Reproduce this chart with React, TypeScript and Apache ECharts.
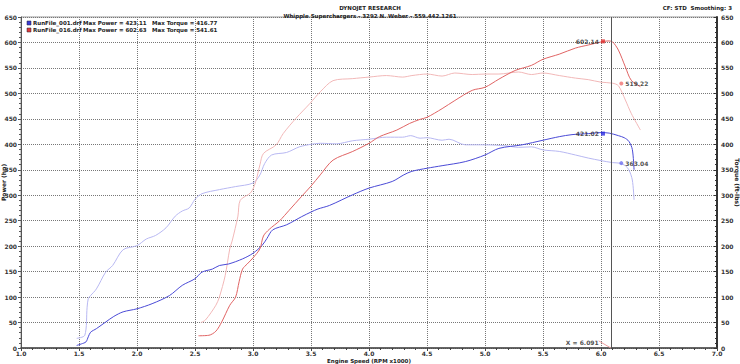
import React, { useEffect, useRef } from "react";
import * as echarts from "echarts";

const titleMain = "DYNOJET RESEARCH";
const titleSub = "Whipple Superchargers - 3292 N. Weber - 559.442.1261";
const cornerText = "CF: STD  Smoothing: 3";
const legendRows = [
  { file: "RunFile_001.drf", power: "Max Power = 423.11", torque: "Max Torque = 416.77", color: "#3b3bd6" },
  { file: "RunFile_016.drf", power: "Max Power = 602.63", torque: "Max Torque = 541.61", color: "#e03a3a" },
];

// RPM x1000, hp
const power001: [number, number][] = [
  [1.48, 5], [1.52, 8], [1.56, 12], [1.58, 22], [1.6, 31], [1.65, 38], [1.73, 51], [1.8, 62], [1.88, 71],
  [2.0, 77], [2.13, 87], [2.28, 103], [2.39, 123], [2.5, 136], [2.56, 149], [2.65, 155], [2.71, 162],
  [2.79, 165], [2.91, 175], [3.0, 186], [3.08, 202], [3.12, 215], [3.17, 232], [3.29, 242], [3.42, 258],
  [3.5, 267], [3.56, 273], [3.66, 280], [3.86, 301], [4.0, 314], [4.2, 327], [4.3, 340], [4.37, 347],
  [4.5, 353], [4.63, 358], [4.83, 366], [5.0, 379], [5.12, 392], [5.32, 399], [5.5, 408], [5.64, 415],
  [5.75, 419], [5.89, 421], [6.0, 423], [6.07, 422], [6.15, 417], [6.2, 413], [6.24, 406], [6.27, 390],
  [6.285, 350],
];
// ft-lbs
const torque001: [number, number][] = [
  [1.48, 19], [1.55, 25], [1.57, 80], [1.58, 97], [1.6, 103], [1.65, 116], [1.73, 149], [1.79, 162],
  [1.88, 193], [2.0, 201], [2.08, 214], [2.16, 221], [2.25, 236], [2.33, 259], [2.39, 269], [2.45, 275],
  [2.5, 292], [2.56, 303], [2.71, 311], [2.85, 317], [3.0, 324], [3.06, 340], [3.1, 362], [3.16, 379],
  [3.29, 384], [3.4, 395], [3.5, 400], [3.58, 402], [3.72, 401], [3.86, 407], [4.0, 410], [4.15, 414],
  [4.29, 414], [4.36, 417], [4.44, 412], [4.5, 413], [4.63, 408], [4.69, 410], [4.83, 399], [5.0, 399],
  [5.18, 397], [5.29, 394], [5.4, 395], [5.5, 389], [5.64, 386], [5.78, 379], [5.89, 373], [6.0, 368],
  [6.1, 364], [6.16, 363], [6.21, 358], [6.24, 350], [6.27, 330], [6.285, 291],
];
const power016: [number, number][] = [
  [2.53, 24], [2.62, 25], [2.68, 33], [2.73, 51], [2.8, 84], [2.85, 100], [2.88, 130], [2.91, 155],
  [2.95, 165], [3.0, 177], [3.06, 195], [3.09, 220], [3.14, 233], [3.23, 250], [3.31, 270], [3.42, 298],
  [3.5, 318], [3.58, 340], [3.69, 369], [3.86, 386], [4.0, 402], [4.09, 415], [4.24, 428], [4.35, 441],
  [4.44, 449], [4.5, 453], [4.63, 470], [4.74, 486], [4.89, 506], [5.0, 512], [5.12, 528], [5.26, 545],
  [5.4, 555], [5.5, 567], [5.64, 577], [5.78, 589], [5.89, 595], [6.0, 601], [6.06, 603], [6.1, 601],
  [6.15, 585], [6.21, 552], [6.26, 526], [6.34, 513],
];
const torque016: [number, number][] = [
  [2.55, 50], [2.59, 55], [2.68, 84], [2.71, 100], [2.76, 142], [2.8, 195], [2.82, 210], [2.87, 259],
  [2.89, 290], [2.98, 305], [3.02, 324], [3.06, 360], [3.09, 382], [3.2, 399], [3.26, 421], [3.37, 451],
  [3.49, 480], [3.58, 503], [3.69, 525], [3.86, 529], [4.0, 532], [4.15, 535], [4.29, 532], [4.37, 535],
  [4.5, 538], [4.63, 534], [4.74, 540], [4.89, 537], [5.0, 538], [5.12, 538], [5.29, 542], [5.4, 537],
  [5.5, 540], [5.64, 535], [5.78, 530], [5.89, 527], [6.0, 522], [6.1, 520], [6.15, 515], [6.21, 487],
  [6.26, 461], [6.34, 428],
];

const powerMarkers = [
  { x: 6.017, v: 602.14, color: "#e03030" },
  { x: 6.017, v: 421.02, color: "#2a2ae0" },
];
const torqueMarkers = [
  { x: 6.175, v: 519.22, color: "#f07070" },
  { x: 6.175, v: 363.04, color: "#7070f0" },
];
const cursorX = 6.091;
const cursorLabel = "X = 6.091";
const cursorTick: [number, number][] = [[5.98, 14], [6.085, 0]];

const FONT = "DejaVu Sans";

export default function App() {
  const ref = useRef<HTMLDivElement>(null);
  useEffect(() => {
    if (!ref.current) return;
    const chart = echarts.init(ref.current, null, { renderer: "svg" });
    const axisLabel = { fontSize: 6, fontWeight: "bold", color: "#333", fontFamily: FONT };
    const nameStyle = { fontSize: 6, fontWeight: "bold", color: "#222", fontFamily: FONT };
    const lineSeries = (data: [number, number][], color: string, yIdx: number, extra: any = {}) => ({
      type: "line",
      data,
      yAxisIndex: yIdx,
      showSymbol: false,
      smooth: 0.3,
      lineStyle: { color, width: 1 },
      itemStyle: { color },
      z: 3,
      ...extra,
    });
    const legendGraphics: any[] = [];
    legendRows.forEach((r, i) => {
      const y = 21 + i * 7;
      legendGraphics.push({
        type: "rect",
        shape: { x: 27, y: y, width: 4, height: 4 },
        style: { fill: r.color, stroke: "#223", lineWidth: 0.5 },
      });
      legendGraphics.push({
        type: "text", x: 33, y: y - 1,
        style: { text: r.file, fontSize: 5.5, fontWeight: "bold", fontFamily: FONT, fill: "#222" },
      });
      legendGraphics.push({
        type: "text", x: 83, y: y - 1,
        style: { text: r.power, fontSize: 5.5, fontWeight: "bold", fontFamily: FONT, fill: "#222" },
      });
      legendGraphics.push({
        type: "text", x: 152, y: y - 1,
        style: { text: r.torque, fontSize: 5.5, fontWeight: "bold", fontFamily: FONT, fill: "#222" },
      });
    });
    chart.setOption({
      animation: false,
      backgroundColor: "#fff",
      grid: {
        left: 21, right: 23, top: 17, bottom: 16, show: true, borderColor: "#999", borderWidth: 1,
        containLabel: false, outerBoundsMode: "none",
      },
      title: [
        {
          text: titleMain, left: "center", top: 0,
          textStyle: { fontSize: 5.5, fontWeight: "bold", fontFamily: FONT, color: "#222" },
        },
        {
          text: titleSub, left: "center", top: 8,
          textStyle: { fontSize: 5.5, fontWeight: "bold", fontFamily: FONT, color: "#222" },
        },
        {
          text: cornerText, right: 3, top: 0,
          textStyle: { fontSize: 5.5, fontWeight: "bold", fontFamily: FONT, color: "#222" },
        },
      ],
      graphic: legendGraphics,
      xAxis: {
        type: "value", min: 1, max: 7, interval: 0.5,
        name: "Engine Speed (RPM x1000)", nameLocation: "middle", nameGap: 9.5, nameMoveOverlap: false,
        nameTextStyle: { ...nameStyle, fontSize: 5.5 },
        axisLine: { show: true, lineStyle: { color: "#444", width: 1.5 } },
        axisTick: { show: true, length: 3, inside: false, lineStyle: { color: "#444" } },
        minorTick: { show: true, splitNumber: 5, length: 2, lineStyle: { color: "#444" } },
        axisLabel: { ...axisLabel, margin: 2, formatter: (v: number) => v.toFixed(1) },
        splitLine: { show: true, lineStyle: { color: "#777", type: [1, 1], width: 1 } },
      },
      yAxis: [
        {
          type: "value", min: 0, max: 650, interval: 50, position: "left",
          name: "Power (hp)", nameLocation: "middle", nameGap: 15, nameRotate: 90, nameMoveOverlap: false,
          nameTextStyle: nameStyle,
          axisLine: { show: true, lineStyle: { color: "#555", width: 1 } },
          axisTick: { show: true, length: 3, lineStyle: { color: "#555" } },
          minorTick: { show: true, splitNumber: 5, length: 2, lineStyle: { color: "#555" } },
          axisLabel: { ...axisLabel, margin: 4 },
          splitLine: { show: true, lineStyle: { color: "#777", type: [1, 1], width: 1 } },
        },
        {
          type: "value", min: 0, max: 650, interval: 50, position: "right",
          name: "Torque (ft-lbs)", nameLocation: "middle", nameGap: 17, nameRotate: -90, nameMoveOverlap: false,
          nameTextStyle: nameStyle,
          axisLine: { show: true, lineStyle: { color: "#333", width: 2 } },
          axisTick: { show: true, length: 3, inside: true, lineStyle: { color: "#333" } },
          minorTick: { show: true, splitNumber: 5, length: 2, lineStyle: { color: "#333" } },
          axisLabel: { ...axisLabel, margin: 4 },
          splitLine: { show: false },
        },
      ],
      series: [
        lineSeries(torque001, "#b8b8f2", 1),
        lineSeries(torque016, "#f2b8b8", 1),
        lineSeries(power001, "#4a4ad6", 0, {
          markLine: {
            silent: true, symbol: ["none", "none"],
            lineStyle: { color: "#555", type: "solid", width: 1 },
            label: { show: false },
            data: [{ xAxis: cursorX }],
          },
        }),
        lineSeries(power016, "#e06464", 0),
        {
          type: "line", data: cursorTick, showSymbol: false,
          lineStyle: { color: "#f0a0a0", width: 1 }, z: 2,
        },
        {
          type: "scatter", symbolSize: 0, data: [[cursorTick[0][0], 10]],
          label: {
            show: true, position: "left", distance: 0, formatter: cursorLabel,
            fontSize: 6, fontWeight: "bold", color: "#222", fontFamily: FONT,
          },
          z: 5,
        },
        ...powerMarkers.map((m) => ({
          type: "scatter", symbol: "rect", symbolSize: 4, yAxisIndex: 0,
          data: [[m.x, m.v]], itemStyle: { color: m.color },
          label: {
            show: true, position: "left", distance: 2, formatter: m.v.toFixed(2),
            fontSize: 6, fontWeight: "bold", color: "#222", fontFamily: FONT,
          },
          z: 5,
        })),
        ...torqueMarkers.map((m) => ({
          type: "scatter", symbol: "circle", symbolSize: 4, yAxisIndex: 1,
          data: [[m.x, m.v]], itemStyle: { color: m.color },
          label: {
            show: true, position: "right", distance: 2, formatter: m.v.toFixed(2),
            fontSize: 6, fontWeight: "bold", color: "#222", fontFamily: FONT,
          },
          z: 5,
        })),
      ],
    });
    return () => chart.dispose();
  }, []);
  return <div ref={ref} style={{ position: "absolute", left: 0, top: 0, width: 740, height: 364 }} />;
}
